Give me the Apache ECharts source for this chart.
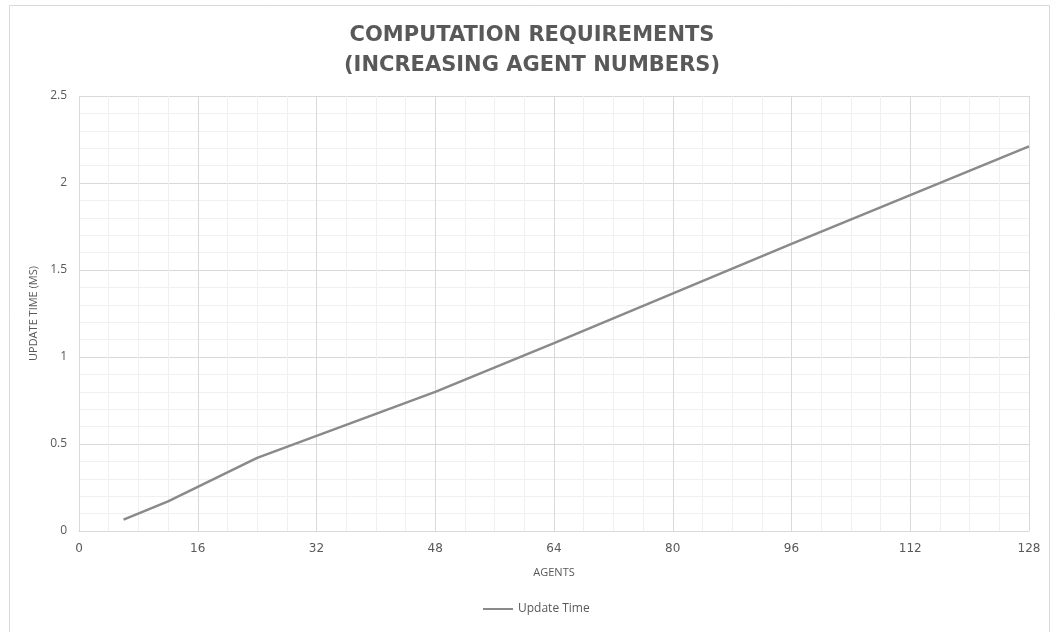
<!DOCTYPE html>
<html><head><meta charset="utf-8">
<script src="https://cdn.jsdelivr.net/npm/echarts@6/dist/echarts.min.js"></script>
<style>html,body{margin:0;padding:0;background:#fff}#c{width:1051px;height:632px}</style>
</head><body><div id="c"></div>
<script>
const agents = [6, 12, 24, 48, 64, 96, 128];
const updateTime = [0.065, 0.17, 0.42, 0.80, 1.08, 1.65, 2.21];
const seriesName = 'Update Time';
const titleLines = ['COMPUTATION REQUIREMENTS', '(INCREASING AGENT NUMBERS)'];
const xName = 'AGENTS';
const yName = 'UPDATE TIME (MS)';

const chart = echarts.init(document.getElementById('c'));
const txt = '#595959';
chart.setOption({
  animation: false,
  graphic: [{type:'rect', shape:{x:9.5,y:5.5,width:1040,height:640}, style:{fill:'none', stroke:'#d9d9d9', lineWidth:1}}],
  title: {
    text: titleLines.join('\n'), left: 527, textAlign: 'center', top: 16,
    textStyle: {color: txt, fontSize: 21, fontWeight: 'bold', fontFamily: 'DejaVu Sans', lineHeight: 30}
  },
  legend: {
    bottom: 12, left: 478, itemWidth: 30, itemHeight: 2, icon: 'rect', itemGap: 4,
    textStyle: {color: txt, fontSize: 12, fontFamily: 'Open Sans'},
    data: [seriesName]
  },
  grid: {left: 79, right: 22, top: 96, bottom: 101},
  xAxis: {
    type: 'value', min: 0, max: 128, interval: 16,
    name: xName, nameLocation: 'middle', nameGap: 36,
    nameTextStyle: {color: txt, fontSize: 11, fontFamily: 'Open Sans'},
    axisLine: {show: true, lineStyle: {color: '#d9d9d9'}},
    axisTick: {show: false},
    axisLabel: {color: txt, fontSize: 12, fontFamily: 'DejaVu Sans', margin: 12},
    splitLine: {show: true, lineStyle: {color: '#d9d9d9'}},
    minorTick: {show: false, splitNumber: 4},
    minorSplitLine: {show: true, lineStyle: {color: '#f0f0f0'}}
  },
  yAxis: {
    type: 'value', min: 0, max: 2.5, interval: 0.5,
    name: yName, nameLocation: 'middle', nameGap: 40,
    nameTextStyle: {color: txt, fontSize: 11, fontFamily: 'Open Sans'},
    axisLine: {show: false},
    axisTick: {show: false},
    axisLabel: {color: txt, fontSize: 12, fontFamily: 'Open Sans', margin: 12},
    splitLine: {show: true, lineStyle: {color: '#d9d9d9'}},
    minorTick: {show: false, splitNumber: 5},
    minorSplitLine: {show: true, lineStyle: {color: '#f0f0f0'}}
  },
  series: [{
    name: seriesName, type: 'line', showSymbol: false, symbol: 'none',
    data: agents.map((a, i) => [a, updateTime[i]]),
    lineStyle: {color: '#8a8a8a', width: 2.5},
    itemStyle: {color: '#8a8a8a'}
  }]
});
</script></body></html>
